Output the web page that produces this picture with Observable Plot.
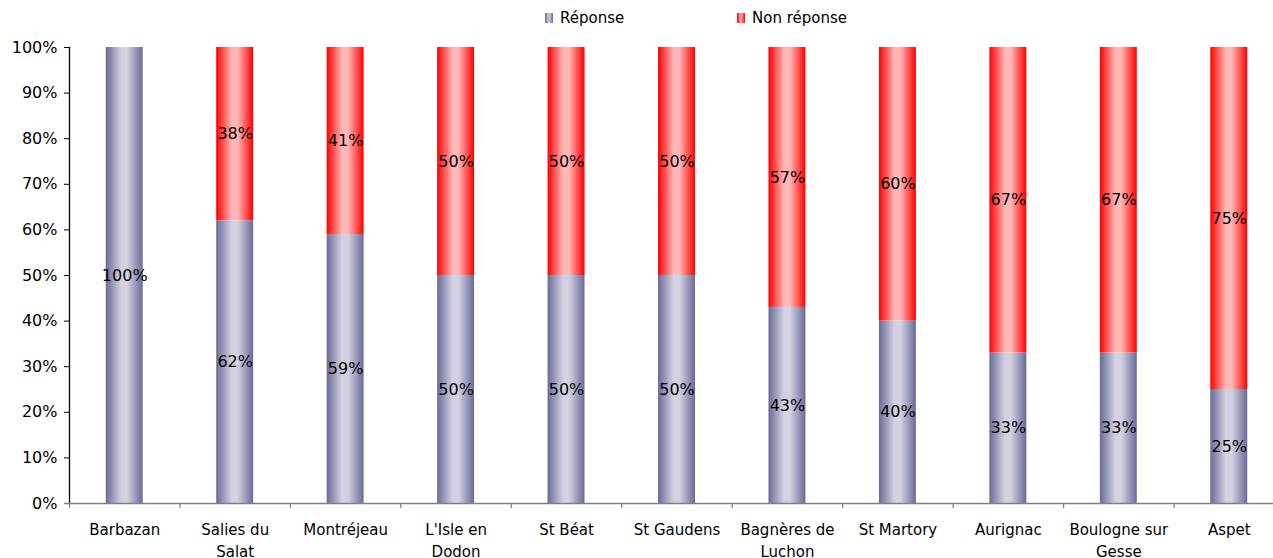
<!DOCTYPE html>
<html>
<head>
<meta charset="utf-8">
<script src="https://cdn.jsdelivr.net/npm/d3@7"></script>
<script src="https://cdn.jsdelivr.net/npm/@observablehq/plot@0.6"></script>
<style>
  html, body { margin: 0; padding: 0; background: #fff; overflow: hidden; }
  body { width: 1273px; height: 558px; font-family: "DejaVu Sans", sans-serif; }
  #legend { position: relative; height: 38px; font-size: 15px; color: #000; }
  #legend .item { position: absolute; top: 9px; display: flex; align-items: center; }
  #legend .sw { width: 8px; height: 10px; margin-right: 7px; }
  #chart svg { display: block; overflow: visible; max-width: none !important; }
</style>
</head>
<body>
<div id="legend"></div>
<div id="chart"></div>
<script>
// Communes surveyed
const communes = [
  "Barbazan", "Salies du\nSalat", "Montréjeau", "L'Isle en\nDodon", "St Béat",
  "St Gaudens", "Bagnères de\nLuchon", "St Martory", "Aurignac",
  "Boulogne sur\nGesse", "Aspet"
];
// Share of answers (%)
const reponse    = [100, 62, 59, 50, 50, 50, 43, 40, 33, 33, 25];
// Share of non-answers (%)
const nonReponse = [0, 38, 41, 50, 50, 50, 57, 60, 67, 67, 75];
const series = ["Réponse", "Non réponse"];
const yTicks = [0, 10, 20, 30, 40, 50, 60, 70, 80, 90, 100];

const rows = [];
communes.forEach((c, i) => {
  rows.push({commune: c, serie: series[0], value: reponse[i]});
  rows.push({commune: c, serie: series[1], value: nonReponse[i]});
});

const fills = {"Réponse": "url(#gradRep)", "Non réponse": "url(#gradNon)"};

const plot = Plot.plot({
  width: 1284,
  height: 520,
  marginLeft: 69,
  marginRight: 0,
  marginTop: 9,
  marginBottom: 55,
  style: {fontFamily: "DejaVu Sans, sans-serif", fontSize: "15px", color: "#000", background: "transparent"},
  x: {domain: communes, padding: 0, round: false, label: null},
  y: {domain: [0, 100], label: null},
  marks: [
    Plot.barY(rows, Plot.stackY({
      x: "commune", y: "value", z: "serie",
      fill: d => fills[d.serie],
      insetLeft: 36.75, insetRight: 36.75
    })),
    Plot.text(rows.filter(d => d.value > 0), Plot.stackY({
      x: "commune", y: "value", z: "serie",
      text: d => d.value + "%",
      fill: "#000", fontSize: 16
    })),
    // y axis
    Plot.axisY({ticks: yTicks, tickFormat: d => d + "%", tickSize: 5, tickPadding: 7, fontSize: 16, stroke: "#000"}),
    Plot.frame({anchor: "left", stroke: "#000", strokeWidth: 1.3}),
    // x axis: baseline and ticks on category boundaries
    Plot.ruleY([0], {stroke: "#808080", strokeWidth: 1.5, insetLeft: -5}),
    Plot.axisX({tickSize: 5, tickFormat: () => "", dx: -55.25, stroke: "#808080", strokeWidth: 1.3}),
    Plot.axisX({tickSize: 0, tickPadding: 16, fontSize: 15, lineHeight: 1.45})
  ]
});

// Horizontal cylinder-like gradients for the bars
const ns = "http://www.w3.org/2000/svg";
const defs = document.createElementNS(ns, "defs");
function grad(id, stops) {
  const g = document.createElementNS(ns, "linearGradient");
  g.setAttribute("id", id);
  g.setAttribute("x1", "0"); g.setAttribute("x2", "1");
  g.setAttribute("y1", "0"); g.setAttribute("y2", "0");
  stops.forEach(([o, c]) => {
    const s = document.createElementNS(ns, "stop");
    s.setAttribute("offset", o);
    s.setAttribute("stop-color", c);
    g.appendChild(s);
  });
  defs.appendChild(g);
}
grad("gradRep", [["0", "#6a6a98"], ["0.42", "#d2d2e2"], ["0.58", "#d2d2e2"], ["1", "#6a6a98"]]);
grad("gradNon", [["0", "#ff0000"], ["0.42", "#ffb6b6"], ["0.58", "#ffb6b6"], ["1", "#ff0000"]]);
plot.insertBefore(defs, plot.firstChild);

document.getElementById("chart").appendChild(plot);

// Legend
const legend = document.getElementById("legend");
const legendPos = {"Réponse": 545, "Non réponse": 737};
series.forEach(s => {
  const item = document.createElement("div");
  item.className = "item";
  item.style.left = legendPos[s] + "px";
  const sw = document.createElement("span");
  sw.className = "sw";
  sw.style.background = s === "Réponse"
    ? "linear-gradient(to right, #6a6a98, #d2d2e2, #6a6a98)"
    : "linear-gradient(to right, #ff0000, #ffb6b6, #ff0000)";
  const lbl = document.createElement("span");
  lbl.textContent = s;
  item.appendChild(sw);
  item.appendChild(lbl);
  legend.appendChild(item);
});
</script>
</body>
</html>
